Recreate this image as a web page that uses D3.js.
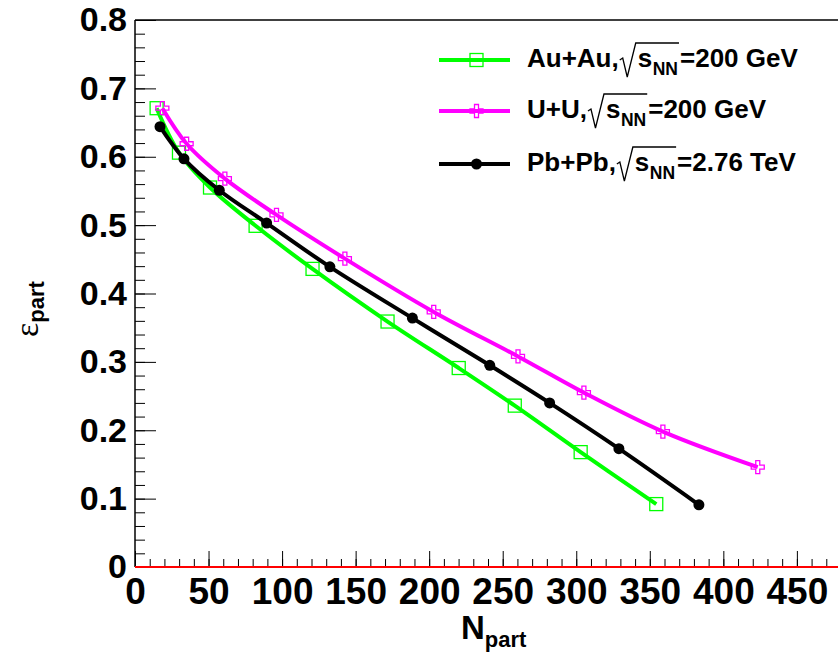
<!DOCTYPE html>
<html><head><meta charset="utf-8">
<script src="https://cdn.jsdelivr.net/npm/d3@7"></script>
<style>
html,body{margin:0;padding:0;background:#fff;}
svg{display:block;font-family:"Liberation Sans",Arial,sans-serif;}
</style></head>
<body><svg id="c" width="838" height="659"></svg>
<script>
// ---- data ----
const auau_x = [14.7, 29.9, 51, 82, 120.7, 171.7, 220.1, 258.2, 303, 354.4];
const auau_y = [0.671, 0.606, 0.555, 0.499, 0.436, 0.359, 0.291, 0.236, 0.168, 0.092];
const uu_x = [18.6, 35.1, 61.1, 96.2, 142.7, 203.1, 260.4, 305.2, 358.9, 423.4];
const uu_y = [0.671, 0.619, 0.568, 0.515, 0.451, 0.373, 0.308, 0.255, 0.198, 0.146];
const pbpb_x = [17, 33.3, 57.3, 89.5, 132.5, 188.6, 241.2, 281.9, 329, 383.4];
const pbpb_y = [0.644, 0.597, 0.551, 0.503, 0.439, 0.364, 0.295, 0.240, 0.173, 0.091];
const xTicks = [0, 50, 100, 150, 200, 250, 300, 350, 400, 450];
const yTicks = [0, 0.1, 0.2, 0.3, 0.4, 0.5, 0.6, 0.7, 0.8];
const legendSystems = ["Au+Au,", "U+U,", "Pb+Pb,"];
const legendEnergies = ["=200 GeV", "=200 GeV", "=2.76 TeV"];

const svg = d3.select("#c");
const L = 135, T = 20, B = 567;
const x = d3.scaleLinear().domain([0, 480]).range([L, 841]);
const y = d3.scaleLinear().domain([0, 0.8]).range([B, T]);

// frame
svg.append("line").attr("x1", L).attr("x2", 838).attr("y1", T).attr("y2", T)
  .attr("stroke", "#000").attr("stroke-width", 1.5);
svg.append("line").attr("x1", L).attr("x2", L).attr("y1", T).attr("y2", B)
  .attr("stroke", "#000").attr("stroke-width", 1.5);

// y axis
const yMinor = svg.append("g").attr("transform", `translate(${L},0)`)
  .call(d3.axisLeft(y).ticks(40).tickSize(-10).tickFormat(""));
const yMajor = svg.append("g").attr("transform", `translate(${L},0)`)
  .call(d3.axisLeft(y).tickValues(yTicks).tickSize(-21).tickPadding(8)
    .tickFormat(d => d === 0 ? "0" : d.toFixed(1)));
// x axis
const xMinor = svg.append("g").attr("transform", `translate(0,${B})`)
  .call(d3.axisBottom(x).tickValues(d3.range(0, 481, 10)).tickSize(-8).tickFormat(""));
const xMajor = svg.append("g").attr("transform", `translate(0,${B})`)
  .call(d3.axisBottom(x).tickValues(xTicks).tickSize(-16).tickPadding(11).tickFormat(d3.format("d")));
[yMinor, yMajor, xMinor, xMajor].forEach(g => {
  g.select(".domain").remove();
  g.selectAll("line").attr("stroke", "#000").attr("stroke-width", 1);
});
yMajor.selectAll("text").attr("font-size", 34).attr("font-weight", "bold")
  .attr("font-family", "Liberation Sans, Arial, sans-serif").attr("fill", "#000");
xMajor.selectAll("text").attr("font-size", 37).attr("font-weight", "bold")
  .attr("font-family", "Liberation Sans, Arial, sans-serif").attr("fill", "#000");

// red zero line
svg.append("line").attr("x1", x(0)).attr("x2", 838).attr("y1", y(0)).attr("y2", y(0))
  .attr("stroke", "#ff0000").attr("stroke-width", 2.2);

// axis titles
const xt = svg.append("text").attr("x", 461).attr("y", 639)
  .attr("font-size", 33).attr("font-weight", "bold").attr("fill", "#000");
xt.append("tspan").text("N");
xt.append("tspan").attr("dy", 8).attr("font-size", 22).text("part");

const yt = svg.append("text").attr("transform", "translate(38,337) rotate(-90)").attr("fill", "#000");
yt.append("tspan").attr("font-family", "Liberation Serif, serif").attr("font-size", 34).text("ε");
yt.append("tspan").attr("dy", 6).attr("font-size", 22).attr("font-weight", "bold").text("part");

// series
const series = [
  {xs: auau_x, ys: auau_y, color: "#00ff00", marker: "square"},
  {xs: uu_x, ys: uu_y, color: "#ff00ff", marker: "cross"},
  {xs: pbpb_x, ys: pbpb_y, color: "#000000", marker: "circle"}
];
const line = d3.line().x(d => x(d[0])).y(d => y(d[1])).curve(d3.curveCatmullRom.alpha(0.5));

function crossPath(s, a) {
  return `M${-a},${-s}H${a}V${-a}H${s}V${a}H${a}V${s}H${-a}V${a}H${-s}V${-a}H${-a}Z`;
}
function drawMarker(g, type, cx, cy, color) {
  if (type === "square") {
    g.append("rect").attr("x", cx - 6.5).attr("y", cy - 6.5).attr("width", 13).attr("height", 13)
      .attr("fill", "none").attr("stroke", color).attr("stroke-width", 1.3);
  } else if (type === "cross") {
    g.append("path").attr("d", crossPath(6.5, 2)).attr("transform", `translate(${cx},${cy})`)
      .attr("fill", "none").attr("stroke", color).attr("stroke-width", 1.3);
  } else {
    g.append("circle").attr("cx", cx).attr("cy", cy).attr("r", 5.5).attr("fill", color);
  }
}

series.forEach(s => {
  const pts = s.xs.map((v, i) => [v, s.ys[i]]);
  const g = svg.append("g");
  g.append("path").datum(pts).attr("d", line).attr("fill", "none")
    .attr("stroke", s.color).attr("stroke-width", 4).attr("stroke-linejoin", "round");
  pts.forEach(p => drawMarker(g, s.marker, x(p[0]), y(p[1]), s.color));
});

// legend
const rowY = [60, 111, 164];
const fs = 26;
series.forEach((s, i) => {
  const g = svg.append("g");
  const my = rowY[i];
  g.append("line").attr("x1", 439).attr("x2", 510).attr("y1", my).attr("y2", my)
    .attr("stroke", s.color).attr("stroke-width", 4);
  drawMarker(g, s.marker, 476.5, my, s.color);
  const base = my + 7;
  let cx = 527;
  const t1 = g.append("text").attr("x", cx).attr("y", base).attr("font-size", fs)
    .attr("font-weight", "bold").text(legendSystems[i]);
  cx += t1.node().getComputedTextLength() + 1;
  const rx = cx;
  cx += 18;
  const t2 = g.append("text").attr("x", cx).attr("y", base).attr("font-size", fs)
    .attr("font-weight", "bold").text("s");
  cx += t2.node().getComputedTextLength() + 0.5;
  const t3 = g.append("text").attr("x", cx).attr("y", base + 8).attr("font-size", 17.5)
    .attr("font-weight", "bold").text("NN");
  cx += t3.node().getComputedTextLength() + 1;
  g.append("path")
    .attr("d", `M${rx},${base - 7}L${rx + 3},${base - 9}L${rx + 7.5},${base + 10}L${rx + 16},${base - 24}H${cx}`)
    .attr("fill", "none").attr("stroke", "#000").attr("stroke-width", 1.3);
  cx += 1;
  g.append("text").attr("x", cx).attr("y", base).attr("font-size", fs)
    .attr("font-weight", "bold").text(legendEnergies[i]);
});
</script></body></html>
